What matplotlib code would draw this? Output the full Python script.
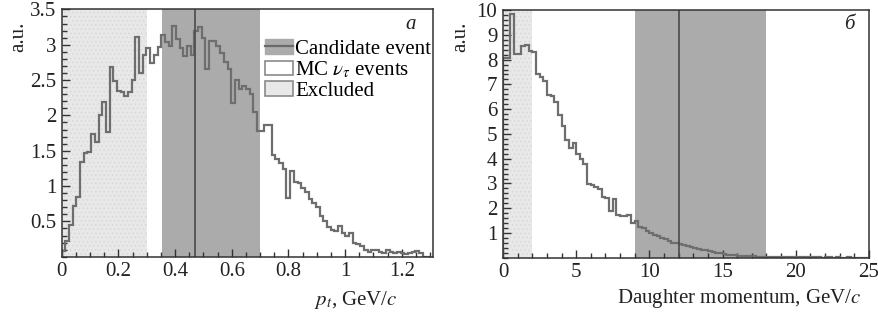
import numpy as np
import matplotlib
matplotlib.use("Agg")
from matplotlib import pyplot as plt
from matplotlib.patches import Patch
from matplotlib.lines import Line2D
from matplotlib.ticker import MultipleLocator, FixedLocator, FormatStrFormatter

plt.rcParams['font.family'] = ['Liberation Serif', 'DejaVu Serif']
plt.rcParams['mathtext.fontset'] = 'stix'
plt.rcParams['hatch.linewidth'] = 0.5

# panel a: pt distribution, 100 bins from 0 to 1.3 GeV/c
pt_range = (0.0, 1.3)
pt_counts = [
    0.08, 0.22, 0.45, 0.72, 0.84, 1.34, 1.47, 1.48, 1.74, 1.63,
    2.00, 2.19, 1.77, 2.68, 2.48, 2.34, 2.33, 2.28, 2.33, 2.50,
    3.11, 2.60, 2.85, 2.95, 2.74, 2.86, 2.97, 3.14, 3.04, 2.98,
    3.27, 3.08, 2.96, 2.84, 2.98, 2.86, 3.20, 3.25, 3.10, 2.66,
    3.05, 3.05, 2.98, 2.88, 2.76, 2.66, 2.17, 2.50, 2.38, 2.42,
    2.38, 2.30, 2.05, 1.78, 1.78, 1.87, 1.86, 1.44, 1.38, 1.33,
    1.24, 0.83, 1.22, 1.06, 1.04, 0.97, 0.92, 0.82, 0.76, 0.71,
    0.58, 0.50, 0.42, 0.38, 0.36, 0.44, 0.34, 0.30, 0.34, 0.20,
    0.18, 0.15, 0.09, 0.06, 0.09, 0.10, 0.06, 0.05, 0.10, 0.07,
    0.05, 0.06, 0.05, 0.04, 0.05, 0.07, 0.08, 0.05, 0.0, 0.0,
]
pt_excluded = (0.0, 0.30)
pt_band = (0.355, 0.70)
pt_event = 0.47
pt_ticks = [0, 0.2, 0.4, 0.6, 0.8, 1.0, 1.2]
pt_ticklabels = ['0', '0.2', '0.4', '0.6', '0.8', '1', '1.2']

# panel b: daughter momentum, 100 bins from 0 to 25 GeV/c
p_range = (0.0, 25.0)
p_counts = [
    8.05, 8.05, 9.83, 8.22, 8.22, 8.55, 8.57, 8.34, 8.32, 7.42,
    7.30, 7.12, 6.58, 6.52, 6.30, 5.75, 5.30, 4.77, 4.43, 4.63,
    4.20, 4.00, 3.80, 2.97, 2.95, 2.87, 2.76, 2.45, 2.40, 1.90,
    2.37, 1.73, 1.67, 1.70, 1.72, 1.42, 1.50, 1.24, 1.20, 1.07,
    1.00, 0.90, 0.87, 0.80, 0.76, 0.66, 0.60, 0.60, 0.55, 0.52,
    0.46, 0.42, 0.40, 0.36, 0.32, 0.30, 0.27, 0.23, 0.21, 0.18,
    0.15, 0.13, 0.12, 0.10, 0.09, 0.07, 0.07, 0.09, 0.06, 0.05,
    0.04, 0.05, 0.04, 0.03, 0.03, 0.04, 0.03, 0.02, 0.03, 0.02,
    0.03, 0.02, 0.02, 0.02, 0.03, 0.02, 0.02, 0.01, 0.02, 0.02,
    0.01, 0.02, 0.01, 0.01, 0.02, 0.01, 0.01, 0.0, 0.0, 0.0,
]
p_excluded = (0.0, 2.0)
p_band = (9.0, 18.0)
p_event = 12.0

HIST_C = '#6e6e6e'
BAND_C = '#ababab'
EXCL_C = '#e8e8e8'
EVENT_C = '#4a4a4a'
AX_C = '#333333'
TXT_C = '#222222'
FS = 15


def panel(ax, counts, rng, excl, band, event, xlim, ylim, xmaj, xmin, ymaj, ymin):
    edges = np.linspace(rng[0], rng[1], len(counts) + 1)
    ax.axvspan(*excl, facecolor=EXCL_C, edgecolor='#d6d6d6', hatch='....', lw=0, zorder=0)
    ax.axvspan(*band, facecolor=BAND_C, lw=0, zorder=1)
    ax.axvline(event, color=EVENT_C, lw=1.2, zorder=3)
    ax.stairs(counts, edges, baseline=0, color=HIST_C, lw=1.6, zorder=2)
    ax.set_xlim(*xlim)
    ax.set_ylim(*ylim)
    ax.xaxis.set_major_locator(MultipleLocator(xmaj))
    ax.xaxis.set_minor_locator(MultipleLocator(xmin))
    yt = np.arange(ymaj, ylim[1] + 1e-9, ymaj)
    ax.yaxis.set_major_locator(FixedLocator(yt))
    ax.yaxis.set_major_formatter(FormatStrFormatter('%g'))
    ax.yaxis.set_minor_locator(MultipleLocator(ymin))
    ax.tick_params(which='both', direction='in', top=False, right=False,
                   colors=AX_C, labelcolor=TXT_C, labelsize=FS, width=1.0, pad=4)
    ax.tick_params(which='major', length=6)
    ax.tick_params(which='minor', length=3.5)
    for s in ax.spines.values():
        s.set_color(AX_C)
        s.set_linewidth(1.1)
        s.set_zorder(5)
    ax.set_ylabel('a.u.', fontsize=FS, color=TXT_C)


fig = plt.figure(figsize=(8.79, 3.14), dpi=100)
ax1 = fig.add_axes([0.0702, 0.1825, 0.4224, 0.7875])
ax2 = fig.add_axes([0.5722, 0.179, 0.4164, 0.789])

panel(ax1, pt_counts, pt_range, pt_excluded, pt_band, pt_event,
      (0, 1.31), (0, 3.5), 0.2, 0.05, 0.5, 0.1)
panel(ax2, p_counts, p_range, p_excluded, p_band, p_event,
      (0, 25), (0, 10), 5, 1, 1, 0.2)
ax1.set_xticks(pt_ticks)
ax1.set_xticklabels(pt_ticklabels)
ax1.yaxis.set_label_coords(-0.09, 0.89)
ax2.yaxis.set_label_coords(-0.09, 0.89)

fig.text(398 / 879, 1 - 300 / 314, '$p_t$, GeV/$c$', fontsize=FS, color=TXT_C,
         ha='right', va='center')
fig.text(862 / 879, 1 - 298 / 314, 'Daughter momentum, GeV/$c$', fontsize=FS,
         color=TXT_C, ha='right', va='center')

ax1.text(0.94, 0.94, 'a', transform=ax1.transAxes, fontsize=FS, style='italic',
         ha='center', va='center', color=TXT_C)
ax2.text(0.945, 0.94, 'б', transform=ax2.transAxes, fontsize=FS, style='italic',
         ha='center', va='center', color=TXT_C)

handles = [
    (Patch(facecolor=BAND_C, edgecolor=BAND_C),
     Line2D([], [], color='#6a6a6a', lw=1.6)),
    Patch(facecolor='white', edgecolor='#8a8a8a', lw=1.2),
    Patch(facecolor=EXCL_C, edgecolor='#8a8a8a', lw=1.2),
]
labels = ['Candidate event', 'MC $\\nu_\\tau$ events', 'Excluded']
ax1.legend(handles, labels, loc='upper left', bbox_to_anchor=(0.548, 0.88),
           frameon=False, fontsize=FS, borderpad=0, borderaxespad=0,
           handlelength=1.35, handleheight=0.7, handletextpad=0.1,
           labelspacing=0.05)

fig.savefig('out.png', dpi=100)
